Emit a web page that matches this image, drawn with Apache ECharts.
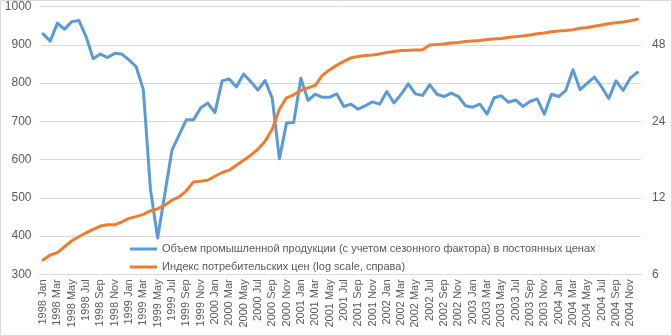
<!DOCTYPE html>
<html>
<head>
<meta charset="utf-8">
<script src="https://cdn.jsdelivr.net/npm/echarts@6/dist/echarts.min.js"></script>
<style>
  html, body { margin: 0; padding: 0; background: #fff; }
  #chart { width: 672px; height: 336px; }
</style>
</head>
<body>
<div id="chart"></div>
<script>
const years = [1998, 1999, 2000, 2001, 2002, 2003, 2004];
const months = ['Jan','Feb','Mar','Apr','May','Jun','Jul','Aug','Sep','Oct','Nov','Dec'];
const categories = years.flatMap(y => months.map(m => y + ' ' + m));

const seriesNames = [
  'Объем промышленной продукции (с учетом сезонного фактора) в постоянных ценах',
  'Индекс потребительских цен (log scale, справа)'
];

// Industrial production (left axis)
const production = [
  929, 910, 957, 941, 961, 964, 922, 864, 876, 867, 878, 876,
  861, 843, 783, 521, 395, 510, 625, 665, 704, 704, 735, 748,
  723, 806, 811, 790, 824, 804, 782, 807, 761, 602, 696, 697,
  813, 755, 771, 763, 763, 772, 739, 745, 732, 741, 751, 745,
  778, 748, 771, 798, 772, 768, 796, 771, 765, 774, 765, 741,
  737, 745, 719, 762, 767, 750, 756, 739, 752, 759, 719, 771,
  765, 781, 835, 783, 800, 816, 790, 760, 806, 781, 813, 828
];

// Consumer price index (right axis, log scale)
const cpi = [
  6.83, 7.15, 7.30, 7.70, 8.13, 8.43, 8.74, 9.02, 9.29, 9.40, 9.40, 9.66,
  9.96, 10.12, 10.33, 10.67, 10.86, 11.23, 11.75, 12.11, 12.79, 13.87, 13.96, 14.08,
  14.60, 15.10, 15.42, 16.13, 16.88, 17.66, 18.64, 20.04, 22.35, 26.78, 29.72, 30.53,
  31.80, 32.53, 33.27, 36.43, 38.29, 39.88, 41.35, 42.67, 43.26, 43.65, 43.85, 44.25,
  44.85, 45.26, 45.67, 45.70, 45.88, 45.96, 48.00, 48.22, 48.44, 48.88, 49.10, 49.55,
  49.78, 50.00, 50.45, 50.68, 50.91, 51.37, 51.75, 52.08, 52.55, 53.12, 53.51, 54.09,
  54.48, 54.73, 55.08, 55.83, 56.24, 56.85, 57.52, 58.20, 58.68, 59.11, 59.75, 60.62
];

const leftTicks = [300, 400, 500, 600, 700, 800, 900, 1000];
const rightTicks = [6, 12, 24, 48];
const cpiBase = rightTicks[0];

const FONT = 'Liberation Sans';
const TXT = '#595959';

const chart = echarts.init(document.getElementById('chart'), null, { renderer: 'canvas' });
chart.setOption({
  backgroundColor: '#ffffff',
  animation: false,
  textStyle: { fontFamily: FONT },
  graphic: [{
    type: 'rect', silent: true, z: -1,
    shape: { x: 0.5, y: 0.5, width: 671, height: 335 },
    style: { fill: 'none', stroke: '#d9d9d9', lineWidth: 1 }
  }],
  grid: { left: 39.5, right: 31, top: 6.7, bottom: 61.7, containLabel: false },
  legend: {
    left: 125, top: 237, orient: 'vertical', itemGap: 4,
    icon: 'rect', itemWidth: 27, itemHeight: 3,
    textStyle: { color: TXT, fontSize: 11, fontFamily: FONT, lineHeight: 14 },
    data: seriesNames
  },
  xAxis: {
    type: 'category', data: categories, boundaryGap: true,
    axisLine: { show: true, lineStyle: { color: '#d9d9d9', width: 1 } },
    axisTick: { show: false },
    axisLabel: { interval: 1, rotate: 90, color: TXT, fontSize: 11, fontFamily: FONT, margin: 5 }
  },
  yAxis: [{
    type: 'value', min: leftTicks[0], max: leftTicks[leftTicks.length - 1], interval: 100,
    axisLine: { show: false }, axisTick: { show: false },
    axisLabel: { color: TXT, fontSize: 12, fontFamily: FONT, margin: 8, formatter: v => String(v) },
    splitLine: { lineStyle: { color: '#d9d9d9', width: 1 } }
  }, {
    type: 'value', min: 0, max: 3.5, interval: 1, position: 'right',
    axisLine: { show: false }, axisTick: { show: false },
    axisLabel: {
      color: TXT, fontSize: 12, fontFamily: FONT, margin: 11,
      formatter: v => Number.isInteger(v) ? String(cpiBase * Math.pow(2, v)) : ''
    },
    splitLine: { show: false }
  }],
  series: [{
    name: seriesNames[0], type: 'line', yAxisIndex: 0,
    data: production, showSymbol: false, symbol: 'none',
    lineStyle: { color: '#5B9BD5', width: 3, join: 'round', cap: 'round' },
    itemStyle: { color: '#5B9BD5' }
  }, {
    name: seriesNames[1], type: 'line', yAxisIndex: 1,
    data: cpi.map(v => Math.log2(v / cpiBase)), showSymbol: false, symbol: 'none',
    lineStyle: { color: '#ED7D31', width: 3, join: 'round', cap: 'round' },
    itemStyle: { color: '#ED7D31' }
  }]
});
</script>
</body>
</html>
